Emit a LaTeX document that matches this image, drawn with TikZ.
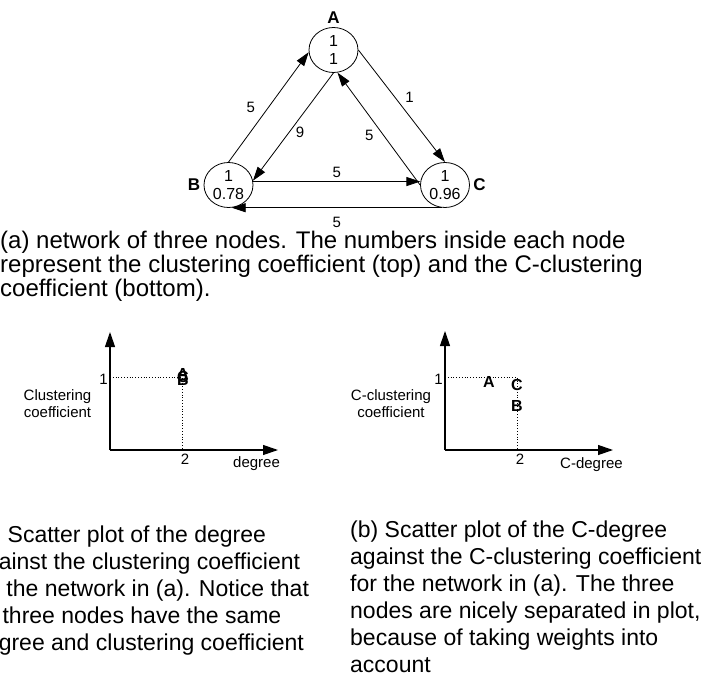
\documentclass[tikz,border=0pt]{standalone}
\usepackage{fontspec}
\setmainfont{Liberation Sans}
\usetikzlibrary{arrows.meta,positioning,shapes.geometric}

\begin{document}
\begin{tikzpicture}[x=1pt,y=-1pt,every node/.style={font=\fontsize{15}{17}\selectfont},
  vertex/.style={draw,ellipse,line width=0.8pt,minimum width=49pt,minimum height=45pt,inner sep=0pt,align=center,font=\fontsize{16}{18.5}\selectfont},
  vname/.style={font=\fontsize{17}{18}\selectfont\bfseries},
  wt/.style={-{Triangle[length=14pt,width=9pt]},line width=0.8pt},
  axis/.style={-{Triangle[length=15pt,width=10pt]},line width=1.2pt},
  guide/.style={dotted,line width=0.8pt},
  pt/.style={font=\fontsize{16}{17}\selectfont\bfseries,inner sep=0pt},
  caption/.style={align=left,anchor=north west,inner sep=0pt}]
  \useasboundingbox (0,0) rectangle (718,680);
  \clip (0,0) rectangle (718,680);

  % (a) the network
  \node[vertex] (A) at (333.5,50) {1\\1};
  \node[vertex] (B) at (228.5,185) {1\\0.78};
  \node[vertex] (C) at (445,185) {1\\0.96};
  \node[vname,above=0pt of A] (nameA) {A};
  \node[vname,left=0pt of B] (nameB) {B};
  \node[vname,right=0pt of C] (nameC) {C};
  \draw[wt] (B.north) -- node[midway,left=10pt] (wBA) {5} (A.185);
  \draw[wt] (A.270) -- node[pos=0.55,right=3pt] (wAB) {9} (B.10);
  \draw[wt] (A.east) -- node[midway,above right=0pt] (wAC) {1} (C.north);
  \draw[wt] (C.west) -- node[pos=0.52,below left=0pt] (wCA) {5} (A.280);
  \draw[wt] (B.8) -- node[midway,above=0pt] (wBC) {5} (C.172);
  \draw[wt] (C.262) -- node[midway,below=6pt] (wCB) {5} (B.278);

  \node[caption,font=\fontsize{24}{24}\selectfont] (capa) at (0,231)
    {(a) network of three nodes. The numbers inside each node\\
     represent the clustering coefficient (top) and the C-clustering\\
     coefficient (bottom).};

  % scatter plot, degree
  \coordinate (o1) at (110,450); \coordinate (y1) at (110,332);
  \coordinate (x1) at (278,450); \coordinate (p1) at (182,377);
  \draw[guide] (o1 |- p1) -- (p1) -- (o1 -| p1);
  \draw[axis] (o1) -- (y1);
  \draw[axis] (o1) -- (x1);
  \node[anchor=east,inner sep=2pt,yshift=-2pt] (one1) at (o1 |- p1) {1};
  \node[below=0pt of o1 -| p1,xshift=3pt] (two1) {2};
  \node[align=center] (ylab1) at (57.5,404) {Clustering\\coefficient};
  \node[anchor=base west,inner sep=0pt] (xlab1) at (233,467) {degree};
  \node[pt] (ptA1) at (183,374) {A};
  \node[pt] (ptC1) at (183,377) {C};
  \node[pt] (ptB1) at (183,380) {B};

  % scatter plot, C-degree
  \coordinate (o2) at (445,450); \coordinate (y2) at (445,331);
  \coordinate (x2) at (613,450); \coordinate (p2) at (517,377);
  \draw[guide] (o2 |- p2) -- (p2) -- (o2 -| p2);
  \draw[axis] (o2) -- (y2);
  \draw[axis] (o2) -- (x2);
  \node[anchor=east,inner sep=2pt,yshift=-2pt] (one2) at (o2 |- p2) {1};
  \node[below=0pt of o2 -| p2,xshift=3pt] (two2) {2};
  \node[align=center] (ylab2) at (391,404) {C-clustering\\coefficient};
  \node[anchor=base west,inner sep=0pt] (xlab2) at (560,468) {C-degree};
  \node[pt] (ptA2) at (489,381.5) {A};
  \node[pt] (ptC2) at (517,384.5) {C};
  \node[pt] (ptB2) at (517,405.5) {B};

  \node[caption,font=\fontsize{23}{27}\selectfont] (capb1) at (-27,526)
    {(b) Scatter plot of the degree\\
     against the clustering coefficient\\
     for the network in (a). Notice that\\
     all three nodes have the same\\
     degree and clustering coefficient};
  \node[caption,font=\fontsize{23}{27}\selectfont] (capb2) at (350,521)
    {(b) Scatter plot of the C-degree\\
     against the C-clustering coefficient\\
     for the network in (a). The three\\
     nodes are nicely separated in plot,\\
     because of taking weights into\\
     account};
\end{tikzpicture}
\end{document}
